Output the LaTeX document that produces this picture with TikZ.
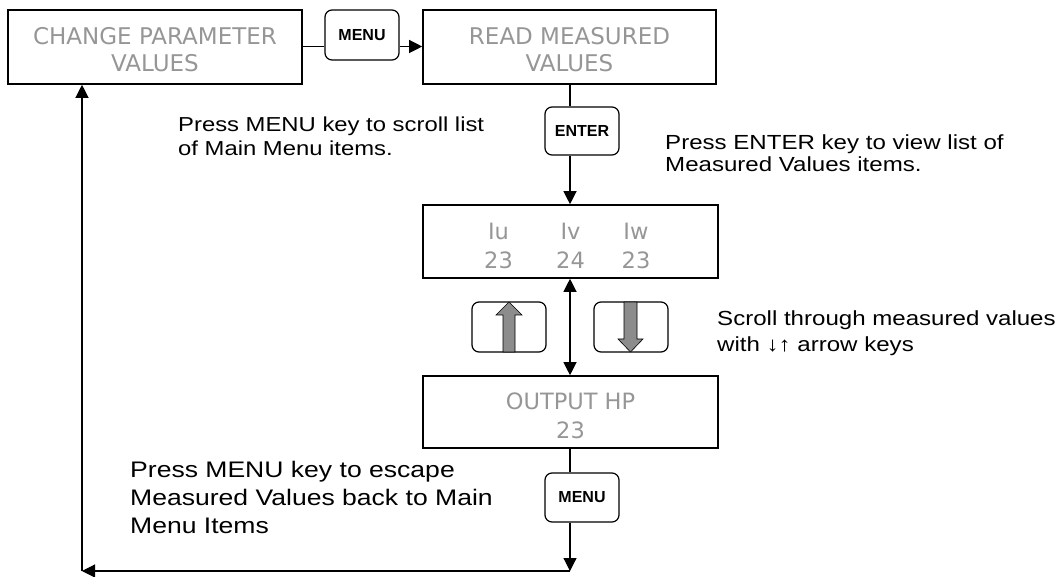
\documentclass[tikz,border=0pt]{standalone}
\usepackage{fontspec}
\setmainfont{Liberation Sans}
\newfontfamily\verd{DejaVu Sans}
\newfontfamily\notefont[FakeStretch=1.18]{Liberation Sans}
\usetikzlibrary{arrows.meta,calc}
\definecolor{boxtext}{RGB}{150,150,150}
\definecolor{keyarrow}{RGB}{140,140,140}
\begin{document}
\begin{tikzpicture}[x=1pt,y=-1pt,
  screen/.style={draw,line width=1.6pt,minimum width=#1,minimum height=73pt,inner sep=0pt},
  boxtxt/.style={inner sep=0pt,font=\verd\fontsize{23}{27}\selectfont,text=boxtext,align=center},
  boxtxtb/.style={boxtxt,font=\verd\fontsize{22.5}{29}\selectfont},
  keybox/.style={draw,line width=1.2pt,rounded corners=7pt,minimum width=74pt,minimum height=#1,inner sep=0pt,
     font=\bfseries\fontsize{16}{18}\selectfont},
  note/.style={anchor=north west,align=left,inner sep=0pt},
  conn/.style={line width=1.2pt},
  arr/.style={conn,-{Triangle[length=13pt,width=13pt]}},
  darr/.style={conn,{Triangle[length=13pt,width=13pt]}-{Triangle[length=13pt,width=13pt]}},
  grayarrow/.style={fill=keyarrow,draw=black,line width=0.6pt}
]
\useasboundingbox (0,0) rectangle (1055,577);

\node[screen=294pt,minimum height=74pt] (change) at (155,47) {};
\node[boxtxt] (changet) at (155,50) {CHANGE PARAMETER\\VALUES};
\node[screen=293pt,minimum height=74pt] (read) at (569.5,47) {};
\node[boxtxt] (readt) at (569.5,50) {READ MEASURED\\VALUES};
\node[keybox=50pt] (menu1) at (362,35) {MENU};
\node[keybox=48pt] (enter) at (582,131) {\raisebox{-2pt}{ENTER}};
\node[screen=295pt] (iu) at (570.5,241.5) {};
\node[boxtxtb] (iut) at (498.5,245.5) {Iu\\23};
\node[boxtxtb] (ivt) at (570.5,245.5) {Iv\\24};
\node[boxtxtb] (iwt) at (636,245.5) {Iw\\23};
\node[screen=295pt,minimum height=72pt] (out) at (570.5,412) {};
\node[boxtxtb] (outt) at (570.5,415.5) {OUTPUT HP\\23};
\node[keybox=50pt] (up) at (509,327) {};
\node[keybox=50pt] (down) at (631,327) {};
\node[keybox=49pt] (menu2) at (582,497.5) {MENU};

\coordinate (br) at (570,571);
\coordinate (bl) at (82,571);

% gray arrows in keys
\draw[grayarrow] (503,352) -- (503,315) -- (496,315) -- (509,302) -- (522,315) -- (515,315) -- (515,352) -- cycle;
\draw[grayarrow] (624,302) -- (637,302) -- (637,339) -- (643,339) -- (630.5,352) -- (618,339) -- (624,339) -- cycle;

% connectors
\draw[conn] (change.east |- 0,46.5) -- (menu1.west |- 0,46.5);
\draw[arr] (menu1.east |- 0,46.5) -- (read.west |- 0,46.5);
\draw[conn] (570,0 |- read.south) -- (570,0 |- enter.north);
\draw[arr] (570,0 |- enter.south) -- (570,0 |- iu.north);
\draw[darr] (570,0 |- iu.south) -- (570,0 |- out.north);
\draw[conn] (570,0 |- out.south) -- (570,0 |- menu2.north);
\draw[arr] (570,0 |- menu2.south) -- (br);
\draw[arr] (br) -- (bl);
\draw[arr] (bl) -- (bl |- change.south);

% notes
\node[note,font=\notefont\fontsize{20.2}{24.5}\selectfont] (n1) at (178,116.5) {Press MENU key to scroll list\\of Main Menu items.};
\node[note,font=\notefont\fontsize{20.4}{22.5}\selectfont] (n2) at (665,134.5) {Press ENTER key to view list of\\Measured Values items.};
\node[note,font=\notefont\fontsize{20.4}{26}\selectfont] (n3) at (717,311) {Scroll through measured values\\with ↓↑ arrow keys};
\node[note,font=\notefont\fontsize{22.5}{28}\selectfont] (n4) at (130,460.5) {Press MENU key to escape\\Measured Values back to Main\\Menu Items};
\end{tikzpicture}
\end{document}
